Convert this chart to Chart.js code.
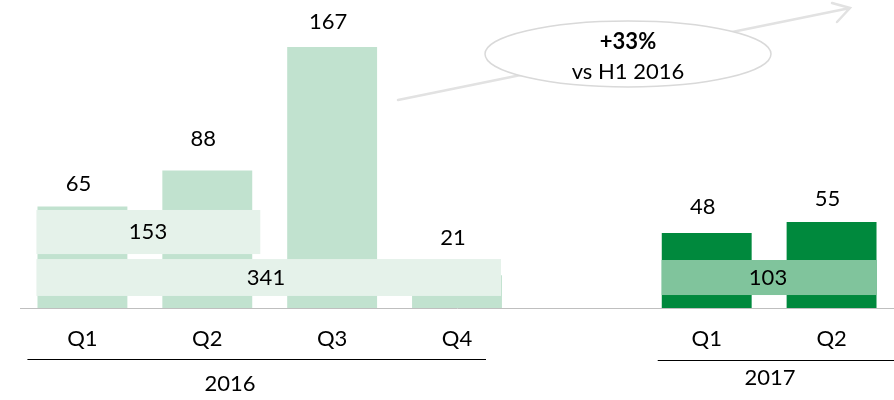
<!DOCTYPE html>
<html>
<head>
<meta charset="utf-8">
<script src="https://cdn.jsdelivr.net/npm/chart.js@4"></script>
<style>
  html, body { margin: 0; padding: 0; background: #fff; }
  #wrap { width: 894px; height: 400px; }
</style>
</head>
<body>
<div id="wrap"><canvas id="quarterChart" width="894" height="400"></canvas></div>
<script>
// 분기별 값
const quarters = ['Q1', 'Q2', 'Q3', 'Q4', '', 'Q1', 'Q2'];
const values2016 = [65, 88, 167, 21, null, null, null];
const values2017 = [null, null, null, null, null, 48, 55];
const yearLabels = ['2016', '2017'];
const totalLabels = [153, 341, 103];
const growthText = ['+33%', 'vs H1 2016'];

const FONT = 'Lato, "Open Sans", sans-serif';
const TEXT = '#000';
const LIGHT = '#c1e2cf';
const DARK = '#00893d';

// label offsets above each bar (reference positions are hand-placed)
const labelLift = [22, 32, 25, 37, 0, 26, 23];

const overlayPlugin = {
  id: 'overlay',
  afterDatasetsDraw(chart) {
    const { ctx, scales: { x, y } } = chart;

    // value labels
    ctx.save();
    ctx.font = '22px ' + FONT;
    ctx.fillStyle = TEXT;
    ctx.textAlign = 'center';
    ctx.textBaseline = 'middle';
    chart.data.datasets.forEach((ds, di) => {
      const meta = chart.getDatasetMeta(di);
      meta.data.forEach((bar, i) => {
        if (ds.data[i] == null) return;
        ctx.fillText(String(ds.data[i]), bar.x - 4, bar.y - labelLift[i]);
      });
    });

    // total boxes
    const boxes = [
      { from: 0, to: 1, lo: 34.5, hi: 62.7, padL: 46, padR: 53, fill: '#e5f2ea', tx: 148 },
      { from: 0, to: 3, lo: 7.7, hi: 31.3, padL: 46, padR: 44, fill: '#e5f2ea', tx: 266 },
      { from: 5, to: 6, lo: 8.3, hi: 30.7, padL: 45, padR: 45, fill: '#80c49c', tx: 768 }
    ];
    boxes.forEach((b, k) => {
      const left = x.getPixelForValue(b.from) - b.padL;
      const right = x.getPixelForValue(b.to) + b.padR;
      const top = y.getPixelForValue(b.hi);
      const bottom = y.getPixelForValue(b.lo);
      ctx.fillStyle = b.fill;
      ctx.fillRect(left, top, right - left, bottom - top);
      ctx.fillStyle = TEXT;
      ctx.fillText(String(totalLabels[k]), b.tx, (top + bottom) / 2);
    });
    ctx.restore();
  },
  afterDraw(chart) {
    const { ctx, scales: { x } } = chart;
    ctx.save();

    // year group lines
    const groups = [
      { l: x.getPixelForValue(0) - 55, r: x.getPixelForValue(3) + 29, ly: 359, ty: 384, tx: 230 },
      { l: x.getPixelForValue(5) - 49, r: chart.width, ly: 360, ty: 378, tx: 770 }
    ];
    ctx.strokeStyle = '#000';
    ctx.lineWidth = 1;
    ctx.font = '22px ' + FONT;
    ctx.fillStyle = TEXT;
    ctx.textAlign = 'center';
    ctx.textBaseline = 'middle';
    groups.forEach((g, k) => {
      ctx.beginPath();
      ctx.moveTo(g.l, g.ly + 0.5);
      ctx.lineTo(g.r, g.ly + 0.5);
      ctx.stroke();
      ctx.fillText(yearLabels[k], g.tx, g.ty);
    });

    // growth arrow
    ctx.strokeStyle = '#e2e2e2';
    ctx.lineWidth = 2.5;
    ctx.lineCap = 'round';
    ctx.beginPath();
    ctx.moveTo(398, 100);
    ctx.lineTo(850, 8);
    ctx.moveTo(832, 3);
    ctx.lineTo(850, 8);
    ctx.lineTo(837, 22);
    ctx.stroke();

    // ellipse callout
    ctx.beginPath();
    ctx.ellipse(628, 54, 143, 33, 0, 0, Math.PI * 2);
    ctx.fillStyle = '#fff';
    ctx.fill();
    ctx.strokeStyle = '#d9d9d9';
    ctx.lineWidth = 1.5;
    ctx.stroke();

    ctx.fillStyle = TEXT;
    ctx.font = 'bold 22px ' + FONT;
    ctx.fillText(growthText[0], 628, 42);
    ctx.font = '22px ' + FONT;
    ctx.fillText(growthText[1], 628, 72);
    ctx.restore();
  }
};

new Chart(document.getElementById('quarterChart'), {
  type: 'bar',
  data: {
    labels: quarters,
    datasets: [
      { data: values2016, backgroundColor: LIGHT, barPercentage: 0.72, categoryPercentage: 1, grouped: false },
      { data: values2017, backgroundColor: DARK, barPercentage: 0.72, categoryPercentage: 1, grouped: false }
    ]
  },
  options: {
    responsive: false,
    animation: false,
    layout: { padding: { left: 20, right: 0, top: 0, bottom: 0 } },
    plugins: { legend: { display: false }, tooltip: { enabled: false } },
    scales: {
      x: {
        grid: { display: false, drawTicks: false },
        border: { display: true, color: '#bfbfbf', width: 1 },
        ticks: { color: TEXT, font: { family: FONT, size: 22 }, padding: 18, maxRotation: 0, autoSkip: false },
        afterFit: (scale) => { scale.height = 92; }
      },
      y: { display: false, min: 0, max: 197 }
    }
  },
  plugins: [overlayPlugin]
});
</script>
</body>
</html>
